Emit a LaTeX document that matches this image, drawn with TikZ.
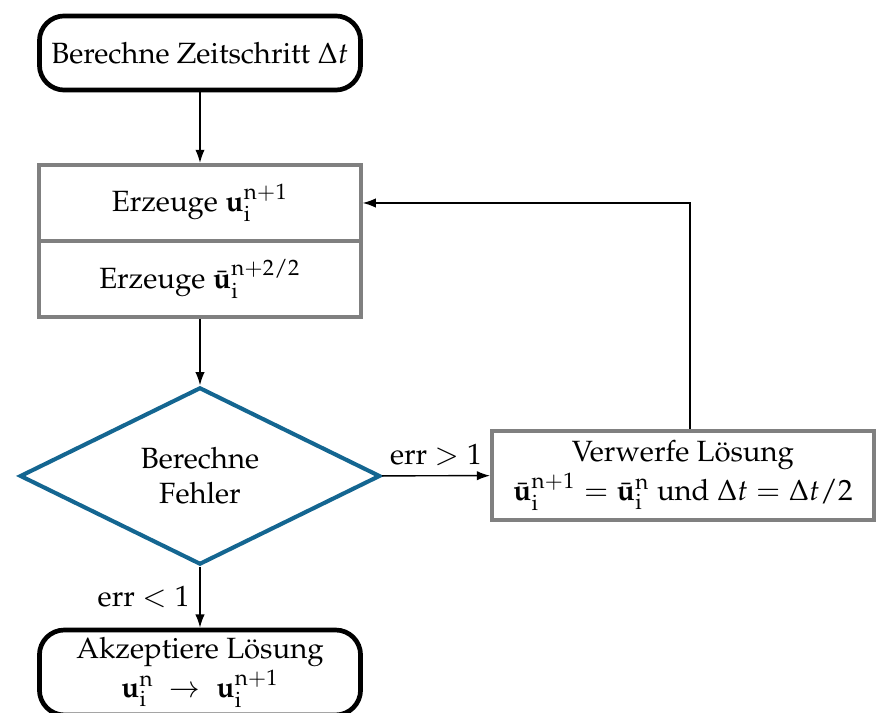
\documentclass[tikz,border=0pt]{standalone}
\usepackage[T1]{fontenc}
\usepackage{mathpazo}
\usepackage{amsmath}
\usetikzlibrary{positioning}
\usetikzlibrary{arrows.meta}
\usetikzlibrary{shapes.geometric}
\definecolor{darkblue}{RGB}{20,102,145}

\begin{document}
\begin{tikzpicture}[x=0.3413pt, y=-0.3413pt,
    startstop/.style={draw=black, line width=1.6pt, rounded corners=8.5pt,
        minimum width=109.6pt, minimum height=25.3pt, align=center, inner sep=2pt},
    process/.style={draw=gray, line width=1.4pt, minimum width=109.6pt,
        minimum height=25.94pt, align=center},
    decision/.style={diamond, draw=darkblue, line width=1.4pt, aspect=2,
        minimum width=123pt, minimum height=60.5pt, align=center, inner sep=0pt},
    arrow/.style={-{Latex[length=4.5pt, width=3.2pt]}, line width=0.5pt}]
    \useasboundingbox (0,0) rectangle (877,713);

    % Start: time step
    \node[startstop] (start) at (200,53) {Berechne Zeitschritt $\Delta t$};

    % Two generate boxes, stacked
    \node[process] (gen1) at (200,203) {Erzeuge $\mathbf{u}_\mathrm{i}^\mathrm{n+1}$};
    \node[process] (gen2) at (200,279) {Erzeuge $\bar{\mathbf{u}}_\mathrm{i}^\mathrm{n+2/2}$};

    % Error check
    \node[decision] (check) at (200,476) {Berechne\\Fehler};

    % Reject branch
    \node[process, minimum width=130.3pt, minimum height=28.3pt] (reject) at (683,475.5)
        {Verwerfe L\"{o}sung\\
         $\bar{\mathbf{u}}_\mathrm{i}^\mathrm{n+1} = \bar{\mathbf{u}}_\mathrm{i}^\mathrm{n}$ und $\Delta t = \Delta t/2$};

    % Accept branch
    \node[startstop, minimum height=29pt] (accept) at (200,672.5)
        {Akzeptiere L\"{o}sung\\
         $\mathbf{u}_\mathrm{i}^\mathrm{n} \ \rightarrow\ \mathbf{u}_\mathrm{i}^\mathrm{n+1}$};

    % Connectors
    \coordinate (back) at ([xshift=2.4pt]reject.north);
    \draw[arrow] (start) -- (gen1);
    \draw[arrow] (gen2) -- (check);
    \draw[arrow] (check) -- node[above] {err $> 1$} (reject);
    \draw[arrow] (check) -- node[left] {err $< 1$} (accept);
    \draw[arrow] (back) |- (gen1.east);
\end{tikzpicture}
\end{document}
